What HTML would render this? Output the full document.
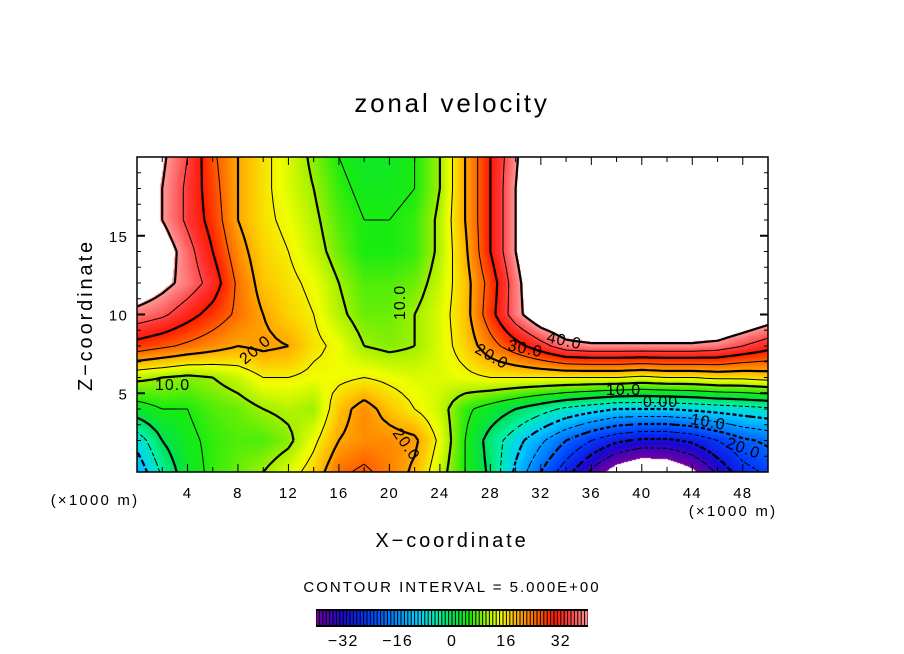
<!DOCTYPE html>
<html><head><meta charset="utf-8"><style>
body{margin:0;background:#fff;width:904px;height:654px;overflow:hidden;font-family:"Liberation Sans",sans-serif}
#wrap{position:relative;width:904px;height:654px}
canvas{position:absolute;left:137px;top:157px}
svg{position:absolute;left:0;top:0}
</style></head><body>
<div id="wrap">
<canvas id="cv" width="631" height="315"></canvas>
<svg id="sv" width="904" height="654">
<text x="452" y="112" text-anchor="middle" font-size="26" letter-spacing="2.8" font-family="Liberation Sans">zonal velocity</text>
<text x="452" y="547" text-anchor="middle" font-size="20" letter-spacing="2.9" font-family="Liberation Sans">X−coordinate</text>
<text transform="translate(92,315) rotate(-90)" text-anchor="middle" font-size="20" letter-spacing="2.9" font-family="Liberation Sans">Z−coordinate</text>
<text x="95" y="505" text-anchor="middle" font-size="15" letter-spacing="2.2">(×1000 m)</text>
<text x="733" y="516" text-anchor="middle" font-size="15" letter-spacing="2.2">(×1000 m)</text>
<text x="452" y="592" text-anchor="middle" font-size="15" letter-spacing="2">CONTOUR INTERVAL = 5.000E+00</text>
<g id="contours"></g>
<g id="clabels" font-size="16" letter-spacing="1" font-family="Liberation Sans">
<text x="155" y="390">10.0</text>
<text transform="translate(245,365) rotate(-40)">20.0</text>
<text transform="translate(405,320) rotate(-90)">10.0</text>
<text transform="translate(392,433) rotate(55)">20.0</text>
<text transform="translate(474,352) rotate(30)">20.0</text>
<text transform="translate(507,350) rotate(12)">30.0</text>
<text transform="translate(546,342) rotate(12)">40.0</text>
<text x="606" y="395">10.0</text>
<text x="643" y="407">0.00</text>
<text transform="translate(690,424) rotate(10)">10.0</text>
<text transform="translate(725,447) rotate(20)">20.0</text>
</g>
<g id="axes"></g>
<g id="cbar"></g>
</svg>
</div>
<script>
const xs=[0,2,4,6,8,10,12,14,16,18,20,22,24,26,28,30,32,34,36,38,40,42,44,46,48,50];
const zs=[0,2,4,6,8,10,12,14,16,18,20];
const u_z0=[-14,-4,3,6,8,10,13,17,24,26,23,19,12,5,-1,-11,-20,-28,-36,-44,-48,-47,-42,-34,-27,-24];
const u_z2=[-8,0,4,6,7,7,9,14,20,22,22,21,14,5,-2,-8,-14,-20,-25,-29,-31,-31,-29,-25,-21,-19];
const u_z4=[3,5,5,7,8,10,11,10,18,22,18,15,12,6,3,0,-3,-6,-8,-10,-10,-10,-9,-8,-7,-6];
const u_z6=[11,10,9,10,12,15,15,14,14,15,14,13,13,14,15,15,15,15,15,15,14,15,15,16,16,17];
const u_z8=[28,26,24,22,20,21,20,16,14,10,9,10,13,17,23,28,33,38,39,39,39,39,39,38,35,32];
const u_z10=[38,36,32,28,24,20,17,15,11,8,8,10,13,18,28,38,45,48,50,50,50,50,50,50,47,44];
const u_z12=[46,42,38,33,24,18,16,14,10,7,7,8,12,18,27,38,47,50,50,50,50,50,50,50,50,50];
const u_z14=[48,44,37,30,22,17,15,12,8,5,5,6,11,19,30,40,48,50,50,50,50,50,50,50,50,50];
const u_z16=[45,40,34,28,20,16,14,11,7,5,5,6,11,20,30,40,48,50,50,50,50,50,50,50,50,50];
const u_z18=[45,40,34,27,20,16,13,10,6,4,4,5,10,20,30,40,50,50,50,50,50,50,50,50,50,50];
const u_z20=[45,41,35,26,20,16,13,9,5,3,3.5,5,10,20,30,39,50,50,50,50,50,50,50,50,50,50];
const rows=[u_z0,u_z2,u_z4,u_z6,u_z8,u_z10,u_z12,u_z14,u_z16,u_z18,u_z20];
const levels=[-35,-30,-25,-20,-15,-10,-5,0,5,10,15,20,25,30,35,40];
const xTicks=[4,8,12,16,20,24,28,32,36,40,44,48];
const zTicks=[5,10,15];
const cbTicks=[-32,-16,0,16,32];

const PX0=137,PW=631,PY0=157,PH=315,XMAX=50,ZMAX=20;
const X=x=>PX0+x*PW/XMAX, Z=z=>PY0+PH-z*PH/ZMAX;
const NS='http://www.w3.org/2000/svg';
function val(x,z){
  let fi=x/(xs[1]-xs[0]), fj=z/(zs[1]-zs[0]);
  let i=Math.min(Math.max(Math.floor(fi),0),xs.length-2), j=Math.min(Math.max(Math.floor(fj),0),zs.length-2);
  let tx=fi-i, tz=fj-j;
  return (rows[j][i]*(1-tx)+rows[j][i+1]*tx)*(1-tz)+(rows[j+1][i]*(1-tx)+rows[j+1][i+1]*tx)*tz;
}
const stops=[[-40,[112,0,160]],[-32,[24,8,208]],[-24,[0,64,255]],[-16,[0,144,255]],[-10,[0,208,255]],[-4,[0,240,160]],[0,[0,224,80]],[5,[24,236,16]],[10,[160,240,0]],[14,[240,255,0]],[18,[255,196,0]],[24,[255,112,0]],[30,[255,24,0]],[34,[255,56,56]],[40,[255,152,152]]];
function col(v){
  if(v>40.5||v<-40.5) return null;
  v=Math.max(-40,Math.min(40,v));
  for(let k=0;k<stops.length-1;k++){
    if(v<=stops[k+1][0]){let t=(v-stops[k][0])/(stops[k+1][0]-stops[k][0]);
      return stops[k][1].map((c,m)=>Math.round(c+(stops[k+1][1][m]-c)*t));}
  }
  return stops[stops.length-1][1];
}
const cv=document.getElementById('cv'),ctx=cv.getContext('2d'),im=ctx.createImageData(PW,PH);
for(let py=0;py<PH;py++)for(let px=0;px<PW;px++){
  let x=(px+0.5)*XMAX/PW, z=(PH-py-0.5)*ZMAX/PH, c=col(val(x,z)), o=(py*PW+px)*4;
  if(c){im.data[o]=c[0];im.data[o+1]=c[1];im.data[o+2]=c[2];}else{im.data[o]=im.data[o+1]=im.data[o+2]=255;}
  im.data[o+3]=255;
}
ctx.putImageData(im,0,0);
const g=document.getElementById('contours');
const R=4,nx=(xs.length-1)*R+1,nz=(zs.length-1)*R+1,dx=(xs[1]-xs[0])/R,dz=(zs[1]-zs[0])/R;
const F=[];for(let j=0;j<nz;j++){F.push([]);for(let i=0;i<nx;i++)F[j].push(val(i*dx,j*dz));}
levels.forEach(L=>{
  let d='';
  for(let j=0;j<nz-1;j++)for(let i=0;i<nx-1;i++){
    const cs=[[i,j],[i+1,j],[i+1,j+1],[i,j+1]],pts=[];
    for(let e=0;e<4;e++){const a=cs[e],b=cs[(e+1)%4],va=F[a[1]][a[0]],vb=F[b[1]][b[0]];
      if((va<L)!==(vb<L)){const t=(L-va)/(vb-va);pts.push([X((a[0]+(b[0]-a[0])*t)*dx),Z((a[1]+(b[1]-a[1])*t)*dz)]);}}
    for(let k=0;k+1<pts.length;k+=2)d+='M'+pts[k][0].toFixed(1)+' '+pts[k][1].toFixed(1)+'L'+pts[k+1][0].toFixed(1)+' '+pts[k+1][1].toFixed(1);
  }
  const p=document.createElementNS(NS,'path');
  p.setAttribute('d',d);p.setAttribute('fill','none');p.setAttribute('stroke','#000');
  p.setAttribute('stroke-width',L%10===0?2.2:1);
  if(L<0)p.setAttribute('stroke-dasharray','4 2.5');
  
  
  g.appendChild(p);
});
const ax=document.getElementById('axes');
function line(x1,y1,x2,y2,w,name){const l=document.createElementNS(NS,'line');l.setAttribute('x1',x1);l.setAttribute('y1',y1);l.setAttribute('x2',x2);l.setAttribute('y2',y2);l.setAttribute('stroke','#000');l.setAttribute('stroke-width',w);


ax.appendChild(l);}
function txt(x,y,s,anchor,name,size){const t=document.createElementNS(NS,'text');t.setAttribute('x',x);t.setAttribute('y',y);t.setAttribute('text-anchor',anchor);t.setAttribute('font-size',size||15);t.setAttribute('letter-spacing','1.2');t.textContent=s;


return t;}
const fr=document.createElementNS(NS,'rect');fr.setAttribute('x',PX0);fr.setAttribute('y',PY0);fr.setAttribute('width',PW);fr.setAttribute('height',PH);fr.setAttribute('fill','none');fr.setAttribute('stroke','#000');fr.setAttribute('stroke-width',1.5);


ax.appendChild(fr);
for(let x=2;x<XMAX;x+=2){const big=x%4===0,L=big?8:5;line(X(x),PY0+PH,X(x),PY0+PH-L,1,'x-tick');line(X(x),PY0,X(x),PY0+L,1,'x-tick-top');}
for(let z=1;z<ZMAX;z++){const big=z%5===0,L=big?8:4;line(PX0,Z(z),PX0+L,Z(z),big?2:1,'z-tick');line(PX0+PW,Z(z),PX0+PW-L,Z(z),big?2:1,'z-tick-right');}
xTicks.forEach(v=>ax.appendChild(txt(X(v),498,String(v),'middle','x-tick-label')));
zTicks.forEach(v=>ax.appendChild(txt(128,Z(v)+6,String(v),'end','z-tick-label')));
const cb=document.getElementById('cbar'),CX0=316,CW=272,CY=609,CH=18;
const bg=document.createElementNS(NS,'rect');bg.setAttribute('x',CX0);bg.setAttribute('y',CY);bg.setAttribute('width',CW);bg.setAttribute('height',CH);bg.setAttribute('fill','#000');


cb.appendChild(bg);
const CV=v=>CX0+(v+40)*CW/80;
for(let k=0;k<80;k++){const v=-40+k+0.5,c=col(v),r=document.createElementNS(NS,'rect');
  r.setAttribute('x',CV(-40+k)+0.5);r.setAttribute('y',CY+2);r.setAttribute('width',CW/80-1);r.setAttribute('height',CH-4);r.setAttribute('fill','rgb('+c.join(',')+')');
  
  
  cb.appendChild(r);}
cbTicks.forEach(v=>cb.appendChild(txt(CV(v),646,(v<0?'−':'')+Math.abs(v),'middle','colorbar-label',16)));
</script>
</body></html>
